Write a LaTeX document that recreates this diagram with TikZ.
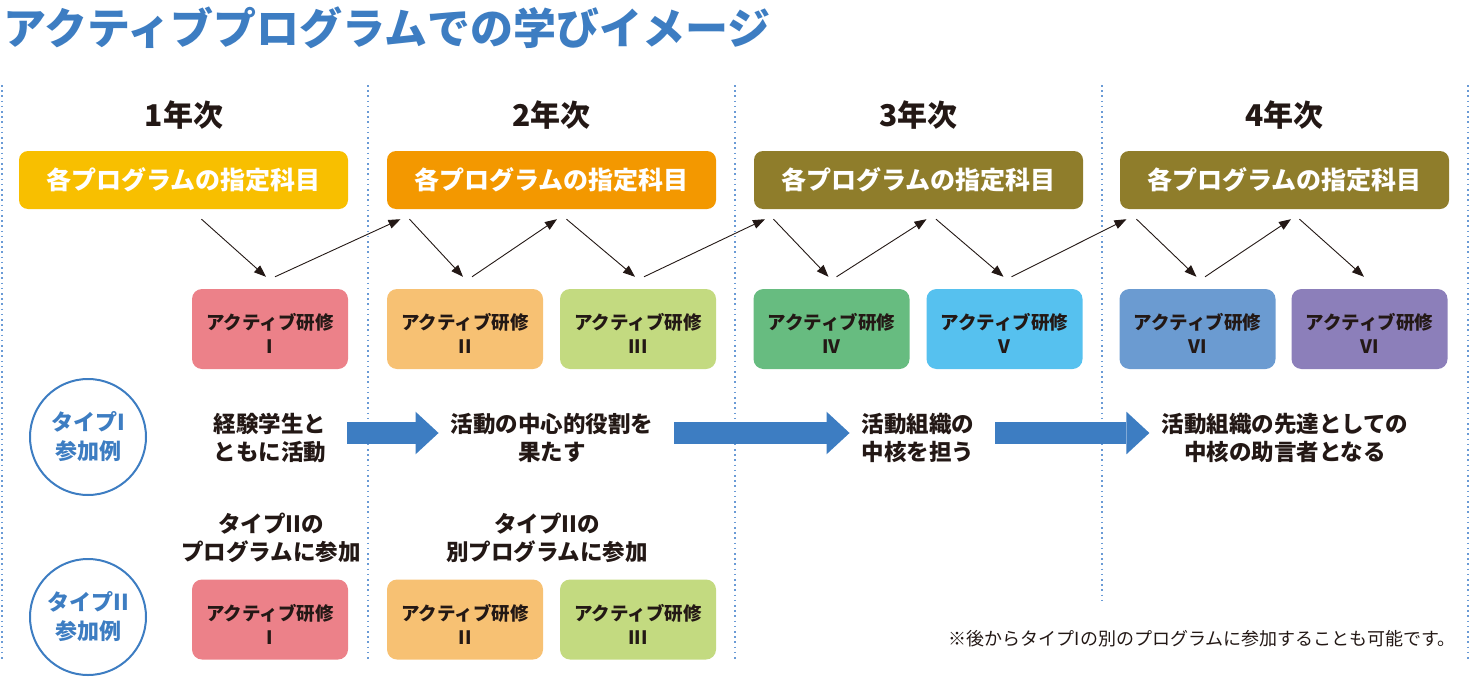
\documentclass[tikz,border=0pt]{standalone}
\usepackage{fontspec}
\setmainfont{Noto Sans CJK JP}
\usepackage{tikz}
\usetikzlibrary{arrows.meta, positioning}

\definecolor{ink}{HTML}{231815}
\definecolor{titleblue}{HTML}{3D7DC2}
\definecolor{divblue}{HTML}{6A9BD6}
\definecolor{yr1col}{HTML}{F8BF00}
\definecolor{yr2col}{HTML}{F39800}
\definecolor{yr3col}{HTML}{8F7D2B}
\definecolor{act1col}{HTML}{EC8189}
\definecolor{act2col}{HTML}{F7C173}
\definecolor{act3col}{HTML}{C3DA80}
\definecolor{act4col}{HTML}{67BC80}
\definecolor{act5col}{HTML}{56C1EF}
\definecolor{act6col}{HTML}{6B9BD1}
\definecolor{act7col}{HTML}{8C7FBA}

\tikzset{
    yearlabel/.style={text=ink, font=\bfseries\fontsize{30}{32}\selectfont},
    progbox/.style={fill=#1, rounded corners=9pt, minimum width=329pt, minimum height=58pt, text=white, font=\bfseries\fontsize{25}{28}\selectfont},
    activebox/.style={fill=#1, rounded corners=10pt, minimum width=156pt, minimum height=80pt, text=ink, align=center, text height=49pt, font=\bfseries\fontsize{18.5}{24}\selectfont},
    stagetext/.style={text=ink, align=center, inner sep=0pt, font=\bfseries\fontsize{22.5}{27.5}\selectfont},
    typecircle/.style={circle, draw=titleblue, line width=2pt, minimum size=116pt, inner sep=0pt, text=titleblue, align=center, font=\bfseries\fontsize{22}{29}\selectfont},
    stepline/.style={draw=ink, line width=0.9pt, -{Triangle[length=12pt,width=9pt]}},
    bigarrow/.style={draw=titleblue, line width=22.6pt, -{Triangle[length=23pt,width=42.6pt,line width=0pt]}, shorten <=21pt, shorten >=12pt},
    yeardiv/.style={draw=divblue, line width=1.4pt, dash pattern=on 1.6pt off 3.6pt},
}

\begin{document}
\begin{tikzpicture}[x=1pt, y=-1pt]
    \useasboundingbox (0,0) rectangle (1470,696);

    % title
    \node[anchor=west, inner sep=0pt, text=titleblue, font=\bfseries\fontsize{43}{45}\selectfont] (title) at (3,28) {アクティブプログラムでの学びイメージ};

    % year columns
    \draw[yeardiv]
        (2,85) -- (2,660)
        (368,85) -- (368,660)
        (735,85) -- (735,660)
        (1102,85) -- (1102,600)
        (1468,85) -- (1468,660);

    \node[yearlabel] (yr1) at (184,115) {1年次};
    \node[yearlabel] (yr2) at (551.5,115) {2年次};
    \node[yearlabel] (yr3) at (918.5,115) {3年次};
    \node[yearlabel] (yr4) at (1284.5,115) {4年次};

    \node[progbox=yr1col] (prog1) at (183.5,180) {各プログラムの指定科目};
    \node[progbox=yr2col] (prog2) at (551.5,180) {各プログラムの指定科目};
    \node[progbox=yr3col] (prog3) at (918.5,180) {各プログラムの指定科目};
    \node[progbox=yr3col] (prog4) at (1284.5,180) {各プログラムの指定科目};

    % type I row
    \node[activebox=act1col] (act1) at (270,329) {アクティブ研修\\I};
    \node[activebox=act2col] (act2) at (465,329) {アクティブ研修\\II};
    \node[activebox=act3col] (act3) at (638,329) {アクティブ研修\\III};
    \node[activebox=act4col] (act4) at (831.5,329) {アクティブ研修\\IV};
    \node[activebox=act5col] (act5) at (1004.5,329) {アクティブ研修\\V};
    \node[activebox=act6col] (act6) at (1197.5,329) {アクティブ研修\\VI};
    \node[activebox=act7col] (act7) at (1369.5,329) {アクティブ研修\\VI};

    \path
        ([xshift=18pt,yshift=-10pt]prog1.south) edge[stepline] ([xshift=-4pt,yshift=12pt]act1.north)
        ([xshift=5pt,yshift=12pt]act1.north) edge[stepline] ([xshift=-151pt,yshift=-10pt]prog2.south)
        ([xshift=-142pt,yshift=-10pt]prog2.south) edge[stepline] ([xshift=-2pt,yshift=12pt]act2.north)
        ([xshift=7pt,yshift=12pt]act2.north) edge[stepline] ([xshift=5.5pt,yshift=-10pt]prog2.south)
        ([xshift=15pt,yshift=-10pt]prog2.south) edge[stepline] ([xshift=-3pt,yshift=12pt]act3.north)
        ([xshift=6pt,yshift=12pt]act3.north) edge[stepline] ([xshift=-153.5pt,yshift=-10pt]prog3.south)
        ([xshift=-145pt,yshift=-10pt]prog3.south) edge[stepline] ([xshift=-3pt,yshift=12pt]act4.north)
        ([xshift=5pt,yshift=12pt]act4.north) edge[stepline] ([xshift=8pt,yshift=-10pt]prog3.south)
        ([xshift=17.5pt,yshift=-10pt]prog3.south) edge[stepline] ([xshift=-1pt,yshift=12pt]act5.north)
        ([xshift=7pt,yshift=12pt]act5.north) edge[stepline] ([xshift=-158pt,yshift=-10pt]prog4.south)
        ([xshift=-148pt,yshift=-10pt]prog4.south) edge[stepline] ([xshift=-1pt,yshift=12pt]act6.north)
        ([xshift=7.5pt,yshift=12pt]act6.north) edge[stepline] ([xshift=6.5pt,yshift=-10pt]prog4.south)
        ([xshift=15pt,yshift=-10pt]prog4.south) edge[stepline] ([xshift=-5.5pt,yshift=12pt]act7.north);

    \node[typecircle] (type1) at (88,437) {タイプI\\参加例};
    \node[stagetext] (stage1) at (270,438) {経験学生と\\ともに活動};
    \node[stagetext] (stage2) at (552,438) {活動の中心的役割を\\果たす};
    \node[stagetext] (stage3) at (918,438) {活動組織の\\中核を担う};
    \node[stagetext] (stage4) at (1285,438) {活動組織の先達としての\\中核の助言者となる};

    \draw[bigarrow] ([yshift=5pt]stage1.east) -- ([yshift=5pt]stage2.west);
    \draw[bigarrow] ([yshift=5pt]stage2.east) -- ([yshift=5pt]stage3.west);
    \draw[bigarrow] ([yshift=5pt]stage3.east) -- ([yshift=5pt]stage4.west);

    % type II row
    \node[typecircle] (type2) at (88,617) {タイプII\\参加例};
    \node[stagetext] (join1) at (271,538) {タイプIIの\\プログラムに参加};
    \node[stagetext] (join2) at (547,538) {タイプIIの\\別プログラムに参加};

    \node[activebox=act1col] (late1) at (270,619.5) {アクティブ研修\\I};
    \node[activebox=act2col] (late2) at (465,619.5) {アクティブ研修\\II};
    \node[activebox=act3col] (late3) at (638,619.5) {アクティブ研修\\III};

    \node[anchor=east, inner sep=0pt, text=ink, font=\fontsize{18}{20}\selectfont] (note) at (1456,639) {※後からタイプIの別のプログラムに参加することも可能です。};
\end{tikzpicture}
\end{document}
